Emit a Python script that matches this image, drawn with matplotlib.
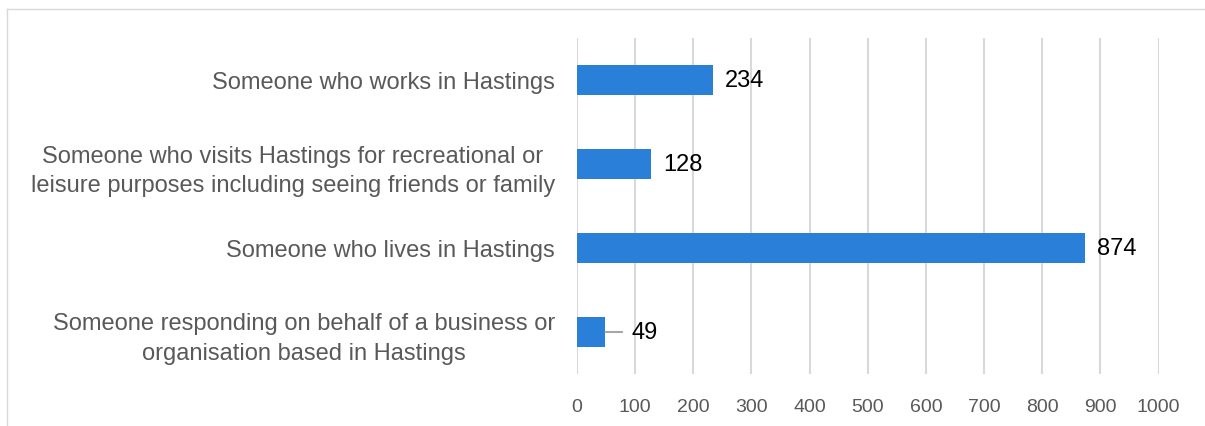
import matplotlib
matplotlib.use("Agg")
import matplotlib.pyplot as plt
from matplotlib.lines import Line2D

# Respondent groups, listed top to bottom
categories = [
    "Someone who works in Hastings",
    "Someone who visits Hastings for recreational or\nleisure purposes including seeing friends or family",
    "Someone who lives in Hastings",
    "Someone responding on behalf of a business or\norganisation based in Hastings",
]
counts = [234, 128, 874, 49]
x_ticks = [0, 100, 200, 300, 400, 500, 600, 700, 800, 900, 1000]

BAR_COLOR = "#2a80d8"
GRID_COLOR = "#d9d9d9"
TEXT_GRAY = "#595959"
FONT = ["Liberation Sans", "DejaVu Sans"]

plt.rcParams["font.family"] = FONT

W, H = 1205, 427
fig = plt.figure(figsize=(W / 100, H / 100), dpi=100)
fig.patch.set_facecolor("white")

# Outer chart frame (top and left edges visible)
fig.add_artist(Line2D([7 / W, 7 / W], [0, 1 - 10 / H], transform=fig.transFigure,
                      color=GRID_COLOR, lw=1.0))
fig.add_artist(Line2D([7 / W, 1], [1 - 10 / H, 1 - 10 / H], transform=fig.transFigure,
                      color=GRID_COLOR, lw=1.0))

left, right = 577 / W, 1158.5 / W
bottom, top = 52 / H, 388 / H
ax = fig.add_axes([left, bottom, right - left, top - bottom])

y = list(range(len(categories)))
ax.barh(y, counts, height=0.357, color=BAR_COLOR, zorder=3)

ax.set_xlim(0, 1000)
ax.set_ylim(len(categories) - 0.5, -0.5)
ax.set_xticks(x_ticks)
ax.set_xticklabels([str(t) for t in x_ticks])
ax.set_yticks(y)
ax.set_yticklabels(categories)

ax.grid(axis="x", color=GRID_COLOR, lw=1.5, zorder=0)
ax.set_axisbelow(True)
for s in ax.spines.values():
    s.set_visible(False)

ax.tick_params(axis="x", length=0, pad=17, labelsize=14, labelcolor=TEXT_GRAY)
ax.tick_params(axis="y", length=0, pad=16, labelsize=17, labelcolor=TEXT_GRAY)
for lbl in ax.get_yticklabels():
    lbl.set_multialignment("center")
    lbl.set_linespacing(1.45)

# Value labels at the end of each bar; short bars get a leader line
for yi, v in zip(y, counts):
    if v < 100:
        ax.annotate(str(v), xy=(v, yi), xytext=(19, 0), textcoords="offset points",
                    ha="left", va="center", fontsize=17, color="black",
                    arrowprops=dict(arrowstyle="-", color="#a6a6a6", lw=1.5,
                                    shrinkA=5, shrinkB=0))
    else:
        ax.annotate(str(v), xy=(v, yi), xytext=(8.5, 0), textcoords="offset points",
                    ha="left", va="center", fontsize=17, color="black")

fig.savefig("out.png", dpi=100, facecolor="white")
